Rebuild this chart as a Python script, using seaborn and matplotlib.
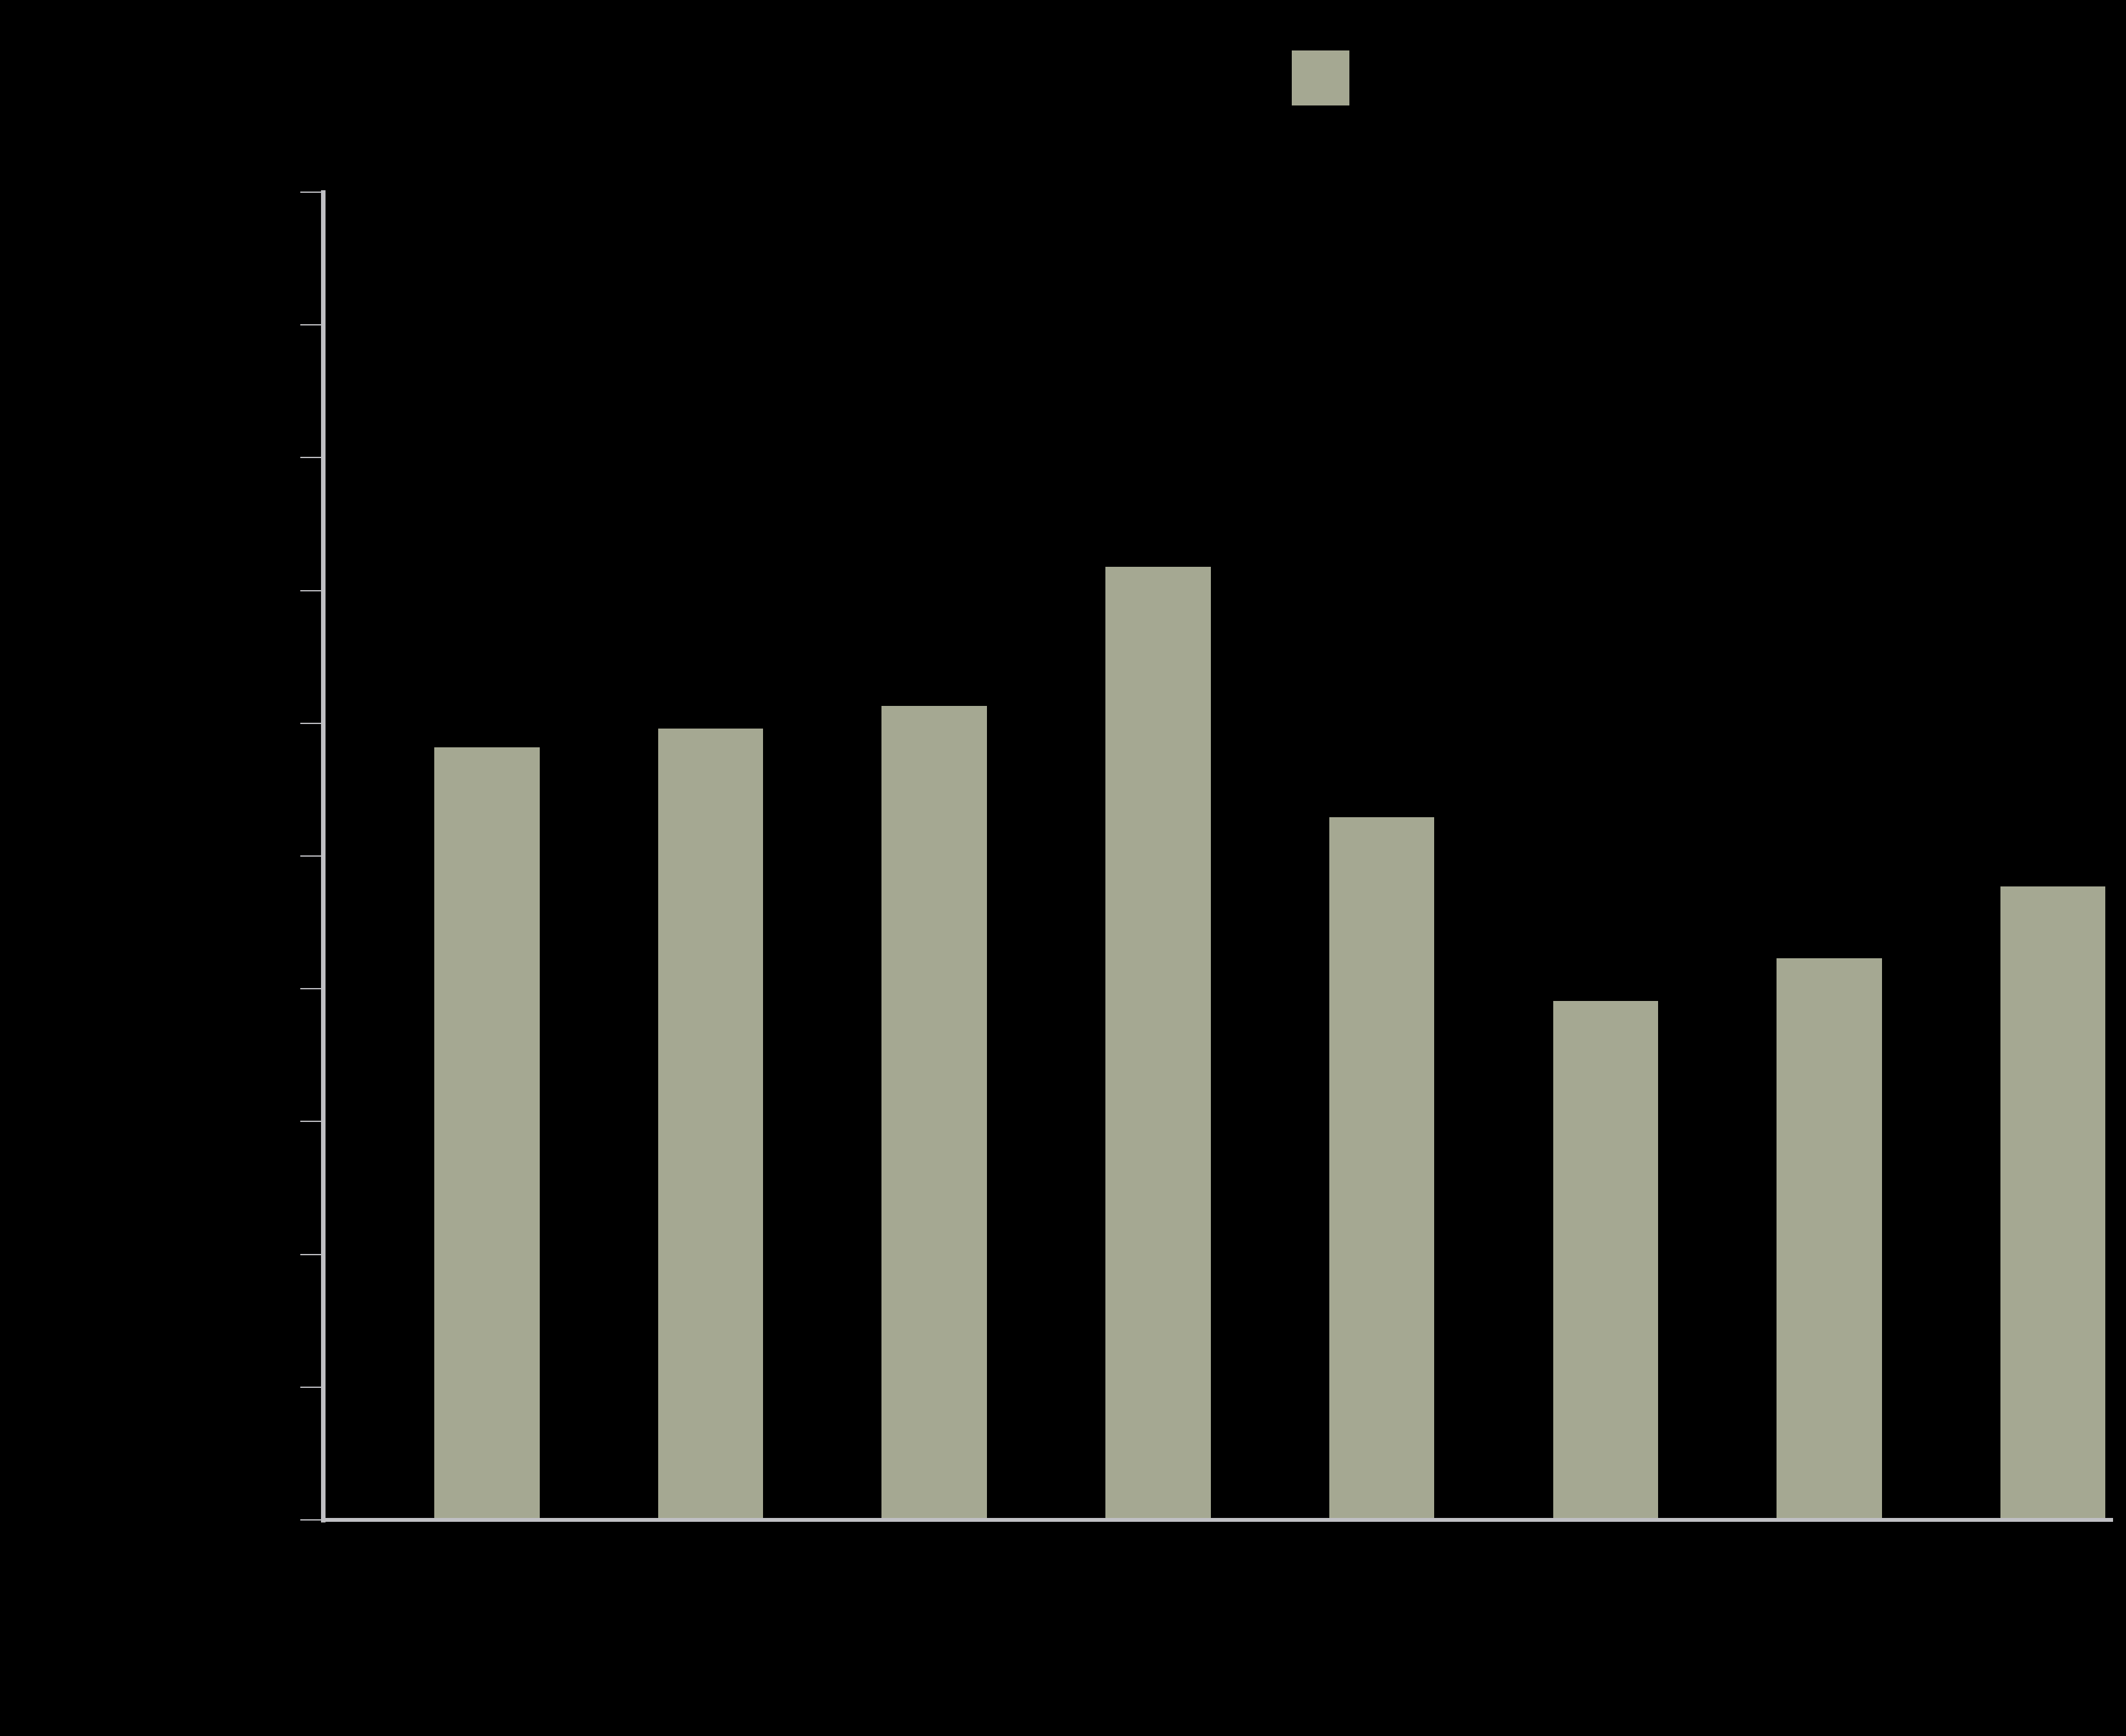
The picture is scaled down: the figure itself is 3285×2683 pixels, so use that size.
import matplotlib
matplotlib.use("Agg")
import matplotlib.pyplot as plt
import seaborn as sns

categories = ["2015", "2016", "2017", "2018", "2019", "2020", "2021", "2022"]
values = [58.2, 59.6, 61.3, 71.8, 52.9, 39.1, 42.3, 47.7]
y_ticks = [0, 10, 20, 30, 40, 50, 60, 70, 80, 90, 100]
series_name = "Value"

bar_color = "#a5a892"
axis_color = "#c0c0c4"

sns.set_theme(style="ticks")
plt.rcParams["font.family"] = ["DejaVu Sans"]

fig = plt.figure(figsize=(32.85, 26.83), dpi=100, facecolor="black")
ax = fig.add_axes([0.1519, 0.1245, 0.993 - 0.1519, 0.8893 - 0.1245])
ax.set_facecolor("black")

sns.barplot(x=categories, y=values, color=bar_color, saturation=1,
            width=0.47, label=series_name, linewidth=0, ax=ax)

ax.set_xlim(-0.733, 7.26)
ax.set_ylim(0, 100)
ax.set_yticks(y_ticks)

for side in ["top", "right"]:
    ax.spines[side].set_visible(False)
ax.spines["left"].set_color(axis_color)
ax.spines["left"].set_linewidth(5)
ax.spines["bottom"].set_color(axis_color)
ax.spines["bottom"].set_linewidth(4.3)

ax.tick_params(axis="y", length=25, width=1.4, color=axis_color,
               labelcolor="black", labelsize=30, pad=4)
ax.tick_params(axis="x", length=0, labelcolor="black", labelsize=30, pad=20)

ax.set_xlabel("Year", color="black", fontsize=34, labelpad=30)
ax.set_ylabel("Value", color="black", fontsize=34, labelpad=30)
ax.text(0.004, 0.85, "%", transform=ax.transAxes, color="black",
        fontsize=30, va="center", ha="left")

ax.legend(loc="upper left", bbox_to_anchor=(1996 / 3285, 1 - 78 / 2683),
          bbox_transform=fig.transFigure, frameon=False, fontsize=32,
          handlelength=2.0, handleheight=2.55, borderpad=0, borderaxespad=0,
          labelcolor="black")

fig.savefig("out.png", dpi=100, facecolor="black")
